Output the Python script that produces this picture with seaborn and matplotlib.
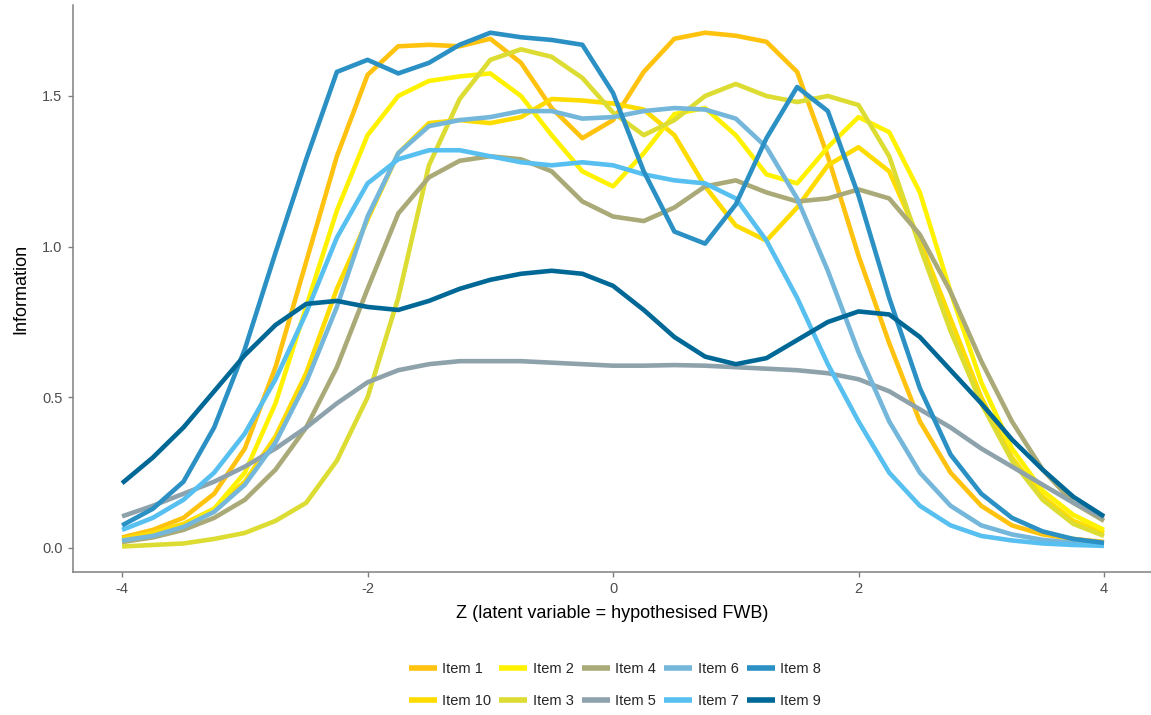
import numpy as np
import pandas as pd
import matplotlib
matplotlib.use("Agg")
import matplotlib.pyplot as plt
import seaborn as sns

# Latent trait grid
z = [-4.0, -3.75, -3.5, -3.25, -3.0, -2.75, -2.5, -2.25, -2.0, -1.75, -1.5,
     -1.25, -1.0, -0.75, -0.5, -0.25, 0.0, 0.25, 0.5, 0.75, 1.0, 1.25, 1.5,
     1.75, 2.0, 2.25, 2.5, 2.75, 3.0, 3.25, 3.5, 3.75, 4.0]

# Item information values along the grid
item1 = [0.035, 0.06, 0.10, 0.18, 0.33, 0.60, 0.95, 1.30, 1.57, 1.665, 1.67,
         1.665, 1.69, 1.61, 1.46, 1.36, 1.42, 1.58, 1.69, 1.71, 1.70, 1.68,
         1.58, 1.30, 0.97, 0.68, 0.42, 0.25, 0.14, 0.075, 0.045, 0.03, 0.02]
item2 = [0.02, 0.04, 0.07, 0.13, 0.25, 0.48, 0.80, 1.12, 1.37, 1.50, 1.55,
         1.565, 1.575, 1.50, 1.37, 1.25, 1.20, 1.31, 1.44, 1.46, 1.37, 1.24,
         1.21, 1.33, 1.43, 1.38, 1.18, 0.85, 0.55, 0.33, 0.19, 0.11, 0.06]
item3 = [0.005, 0.01, 0.015, 0.03, 0.05, 0.09, 0.15, 0.29, 0.50, 0.83, 1.27,
         1.49, 1.62, 1.655, 1.63, 1.56, 1.445, 1.37, 1.42, 1.50, 1.54, 1.50,
         1.48, 1.50, 1.47, 1.30, 1.00, 0.72, 0.48, 0.29, 0.16, 0.08, 0.04]
item4 = [0.02, 0.035, 0.06, 0.10, 0.16, 0.26, 0.40, 0.60, 0.86, 1.11, 1.23,
         1.285, 1.30, 1.29, 1.25, 1.15, 1.10, 1.085, 1.13, 1.20, 1.22, 1.18,
         1.15, 1.16, 1.19, 1.16, 1.04, 0.85, 0.62, 0.42, 0.26, 0.15, 0.09]
item5 = [0.105, 0.14, 0.18, 0.22, 0.27, 0.33, 0.40, 0.48, 0.55, 0.59, 0.61,
         0.62, 0.62, 0.62, 0.615, 0.61, 0.605, 0.605, 0.607, 0.605, 0.60,
         0.595, 0.59, 0.58, 0.56, 0.52, 0.46, 0.40, 0.33, 0.27, 0.21, 0.15,
         0.10]
item6 = [0.025, 0.04, 0.07, 0.12, 0.21, 0.35, 0.55, 0.80, 1.10, 1.31, 1.40,
         1.42, 1.43, 1.45, 1.45, 1.425, 1.43, 1.45, 1.46, 1.455, 1.425, 1.33,
         1.16, 0.92, 0.65, 0.42, 0.25, 0.14, 0.075, 0.045, 0.027, 0.017, 0.01]
item7 = [0.06, 0.10, 0.16, 0.25, 0.38, 0.56, 0.78, 1.03, 1.21, 1.29, 1.32,
         1.32, 1.30, 1.28, 1.27, 1.28, 1.27, 1.24, 1.22, 1.21, 1.16, 1.02,
         0.83, 0.61, 0.42, 0.25, 0.14, 0.075, 0.04, 0.025, 0.015, 0.01, 0.007]
item8 = [0.075, 0.13, 0.22, 0.40, 0.66, 0.98, 1.29, 1.58, 1.62, 1.575, 1.61,
         1.67, 1.71, 1.695, 1.686, 1.67, 1.51, 1.25, 1.05, 1.01, 1.14, 1.36,
         1.53, 1.45, 1.17, 0.83, 0.53, 0.31, 0.18, 0.10, 0.055, 0.03, 0.017]
item9 = [0.215, 0.30, 0.40, 0.52, 0.64, 0.74, 0.81, 0.82, 0.80, 0.79, 0.82,
         0.86, 0.89, 0.91, 0.92, 0.91, 0.87, 0.79, 0.70, 0.635, 0.61, 0.63,
         0.69, 0.75, 0.785, 0.775, 0.70, 0.59, 0.48, 0.36, 0.26, 0.17, 0.105]
item10 = [0.03, 0.05, 0.08, 0.13, 0.22, 0.37, 0.58, 0.86, 1.09, 1.31, 1.41,
          1.42, 1.41, 1.43, 1.49, 1.485, 1.475, 1.455, 1.37, 1.20, 1.07, 1.02,
          1.13, 1.27, 1.33, 1.25, 1.02, 0.76, 0.50, 0.30, 0.17, 0.09, 0.05]

item_names = ["Item 1", "Item 10", "Item 2", "Item 3", "Item 4",
              "Item 5", "Item 6", "Item 7", "Item 8", "Item 9"]
item_values = [item1, item10, item2, item3, item4,
               item5, item6, item7, item8, item9]
item_colors = ["#FFC20E", "#FFDC00", "#FFF200", "#DCDC32", "#AAAA78",
               "#8EA2AC", "#74B7DA", "#57C0F0", "#2B90C4", "#006896"]

df = pd.concat(
    [pd.DataFrame({"z": z, "info": vals, "item": name})
     for name, vals in zip(item_names, item_values)],
    ignore_index=True,
)

sns.set_theme(style="ticks")
plt.rcParams["font.family"] = ["Liberation Sans", "DejaVu Sans"]

fig = plt.figure(figsize=(11.51, 7.15), dpi=100)
ax = fig.add_axes([73 / 1151, 1 - 572 / 715, (1151 - 73) / 1151, (572 - 5) / 715])

sns.lineplot(data=df, x="z", y="info", hue="item", hue_order=item_names,
             palette=dict(zip(item_names, item_colors)), linewidth=3.3,
             ax=ax, legend=True)
for line in ax.get_lines():
    line.set_solid_joinstyle("round")
    line.set_solid_capstyle("butt")

ax.set_xlim(-4.4, 4.383)
ax.set_ylim(-0.0797, 1.802)
ax.set_xticks([-4, -2, 0, 2, 4])
ax.set_xticklabels(["-4", "-2", "0", "2", "4"])
ax.set_yticks([0.0, 0.5, 1.0, 1.5])
ax.set_yticklabels(["0.0", "0.5", "1.0", "1.5"])

for side in ["top", "right"]:
    ax.spines[side].set_visible(False)
for side in ["left", "bottom"]:
    ax.spines[side].set_color("#808080")
    ax.spines[side].set_linewidth(1.1)
ax.tick_params(axis="both", colors="#808080", length=3.5, width=1,
               labelsize=10.5, labelcolor="#4D4D4D", pad=4)

ax.set_xlabel("Z (latent variable = hypothesised FWB)", fontsize=13,
              color="black", labelpad=6)
ax.set_ylabel("Information", fontsize=13, color="black", labelpad=9)

handles, labels = ax.get_legend_handles_labels()
ax.get_legend().remove()
for h in handles:
    h.set_linewidth(4)
    h.set_solid_capstyle("butt")
fig.legend(handles, labels, ncol=5, loc="center",
           bbox_to_anchor=(615 / 1151, 1 - 685 / 715),
           frameon=False, fontsize=10.5, handlelength=1.9,
           handletextpad=0.4, columnspacing=0.55, labelspacing=1.25)

fig.savefig("out.png", dpi=100)
